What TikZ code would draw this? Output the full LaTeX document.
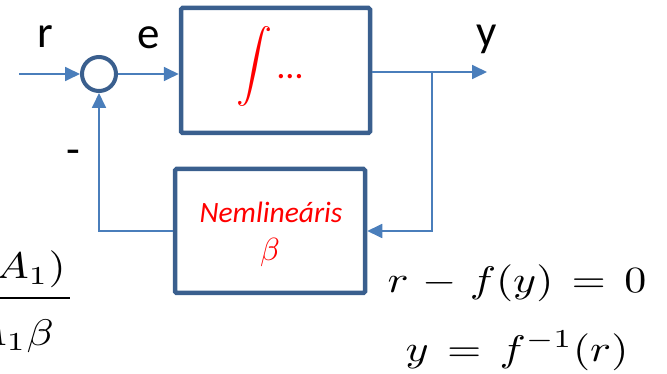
\documentclass[tikz,border=0pt]{standalone}
\usepackage{graphicx}
\usepackage{fontspec}
\setmainfont{Carlito}
\usetikzlibrary{arrows.meta}
\definecolor{boxblue}{HTML}{3A5F8E}
\definecolor{linkblue}{HTML}{4A7EBB}
\definecolor{txtred}{HTML}{FF0000}
\newcommand{\bigmath}[2]{\scalebox{#1}{$#2$}}
\newcommand{\widemath}[1]{\scalebox{4.4}[3.7]{$\medmuskip=5.5mu\thickmuskip=7.5mu #1$}}
\begin{document}
\begin{tikzpicture}[x=1pt,y=-1pt,
  blockbox/.style={draw=boxblue, line width=4.5pt, rounded corners=1.5pt, inner sep=0pt},
  sumnode/.style={circle, draw=boxblue, line width=4pt, minimum size=34pt, inner sep=0pt},
  conn/.style={draw=linkblue, line width=1.8pt},
  arr/.style={conn, -{Triangle[length=15pt,width=14pt]}},
  lbl/.style={font=\fontsize{45}{50}\selectfont, inner sep=0pt},
  eqn/.style={inner sep=0pt},
  redtxt/.style={text=txtred, inner sep=0pt}]
\useasboundingbox (0,0) rectangle (667,374);
\clip (0,0) rectangle (667,374);

% blocks
\node[blockbox, minimum width=189pt, minimum height=125pt] (int) at (275.5,70.5) {};
\node[blockbox, minimum width=190pt, minimum height=124pt] (nl) at (270,231) {};
\node[sumnode] (sum) at (99,74) {};

% block contents
\node[redtxt] (intsym) at (254,67) {\bigmath{3.6}{\displaystyle\int}};
\node[redtxt, font=\fontsize{36}{40}\selectfont, anchor=base] (dots) at (290,79) {\ldots};
\node[redtxt, font=\fontsize{29.5}{32}\selectfont\itshape, anchor=base] (nltxt) at (271,223) {Nemlineáris};
\node[redtxt] (nlbeta) at (270,253) {\bigmath{3.2}{\beta}};

% connectors
\coordinate (in) at (19,74);
\coordinate (tap) at (432,72);
\coordinate (yout) at (487,72);
\draw[arr] (in) -- (sum.west);
\draw[arr] (sum.east) -- (sum.east -| int.west);
\draw[arr] (int.east |- tap) -- (yout);
\draw[arr] (tap) |- (nl.east);
\draw[arr] (nl.west) -| (sum.south);

% labels
\node[lbl, anchor=base] (rlbl) at (45,48) {r};
\node[lbl, anchor=base] (elbl) at (149,49) {e};
\node[lbl, anchor=base] (ylbl) at (487,47) {y};
\node[lbl] (minus) at (73,157) {-};

% equations
\node[eqn, anchor=base] (eq1) at (517,292) {\widemath{r-f(y)=0}};
\node[eqn, anchor=base] (eq2) at (517,361) {\widemath{y=f^{-1}(r)}};

% partially visible fraction at the left edge
\node[eqn, anchor=base east] (fnum) at (66,279) {\widemath{(1+A_1)}};
\node[eqn, anchor=base east] (fden) at (54,345) {\widemath{1+A_1\beta}};
\draw[line width=2.5pt] (-10,298) -- (70,298);
\end{tikzpicture}
\end{document}
